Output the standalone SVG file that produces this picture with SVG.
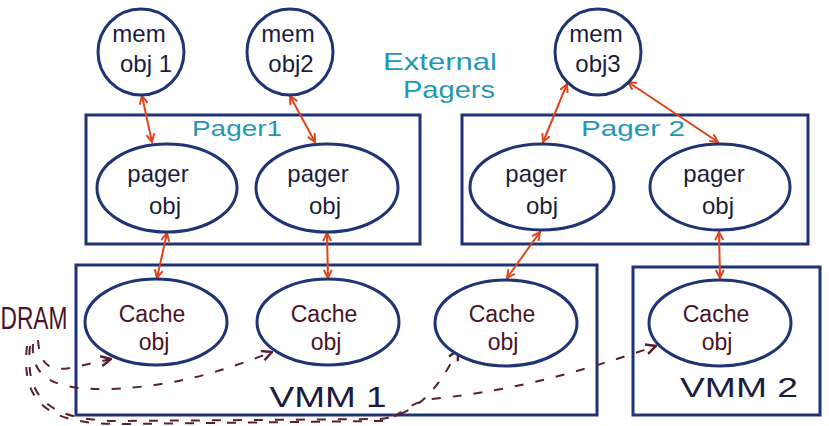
<svg xmlns="http://www.w3.org/2000/svg" width="829" height="426" viewBox="0 0 829 426">
<defs>
<style>
.box{fill:none;stroke:#1f3474;stroke-width:3}
.node{fill:#fff;stroke:#1f3474;stroke-width:3}
.t{font-family:"Liberation Sans","DejaVu Sans",sans-serif;text-anchor:middle}
.dark{fill:#1c1c3c;font-size:24px}
.maroon{fill:#4a1424}
.cache{font-size:23px}
.cyan{fill:#1f98b6}
.oa{fill:none;stroke:#e0441a;stroke-width:2;marker-start:url(#oh);marker-end:url(#oh)}
.da{fill:none;stroke:#5a2030;stroke-width:2;stroke-dasharray:9 12;marker-end:url(#dh)}
</style>
<marker id="oh" viewBox="0 0 10 10" refX="9" refY="5" markerWidth="10" markerHeight="10" markerUnits="userSpaceOnUse" orient="auto-start-reverse">
<path d="M1,1 L9,5 L1,9" fill="none" stroke="#e0441a" stroke-width="2"/>
</marker>
<marker id="dh" viewBox="0 0 12 12" refX="11" refY="6" markerWidth="12" markerHeight="12" markerUnits="userSpaceOnUse" orient="auto">
<path d="M1,1 L11,6 L1,11" fill="none" stroke="#5a2030" stroke-width="2.5"/>
</marker>
</defs>
<rect width="829" height="426" fill="#fff"/>

<g id="containers">
<rect id="pager1-box" class="box" x="86" y="115" width="334" height="129"/>
<rect id="pager2-box" class="box" x="462" y="115" width="346" height="129"/>
<rect id="vmm1-box" class="box" x="76" y="265" width="521" height="150"/>
<rect id="vmm2-box" class="box" x="633" y="267" width="187" height="148"/>
</g>

<g id="labels">
<text class="t cyan" x="237" y="136" font-size="22" textLength="90" lengthAdjust="spacingAndGlyphs">Pager1</text>
<text class="t cyan" x="633" y="136" font-size="22" textLength="104" lengthAdjust="spacingAndGlyphs">Pager 2</text>
<text class="t cyan" x="440" y="70" font-size="24" textLength="114" lengthAdjust="spacingAndGlyphs">External</text>
<text class="t cyan" x="449" y="98" font-size="24" textLength="92" lengthAdjust="spacingAndGlyphs">Pagers</text>
<text class="t" x="328" y="407" font-size="30" fill="#1c1c3c" textLength="117" lengthAdjust="spacingAndGlyphs">VMM 1</text>
<text class="t" x="739" y="397" font-size="28" fill="#1c1c3c" textLength="118" lengthAdjust="spacingAndGlyphs">VMM 2</text>
<text class="t maroon" x="34" y="329" font-size="32" textLength="67" lengthAdjust="spacingAndGlyphs">DRAM</text>
</g>

<g id="connectors">
<line class="oa" x1="142" y1="96" x2="152" y2="142"/>
<line class="oa" x1="290" y1="96" x2="315" y2="142"/>
<line class="oa" x1="567" y1="84" x2="543" y2="142"/>
<line class="oa" x1="628" y1="82" x2="718" y2="142"/>
<line class="oa" x1="167" y1="233" x2="157" y2="278"/>
<line class="oa" x1="327" y1="233" x2="328" y2="278"/>
<line class="oa" x1="540" y1="232" x2="507" y2="278"/>
<line class="oa" x1="719" y1="232" x2="720" y2="278"/>
<path class="da" d="M38,340 C40,368 52,372 75,367 L111,359"/>
<path class="da" d="M33,344 C30,382 62,390 110,389 C180,386 225,370 272,352"/>
<path class="da" d="M30,346 C24,400 52,421 120,421 L380,419 C420,414 440,385 458,350"/>
<path class="da" d="M27,346 C20,406 52,424 120,424 L385,421 C400,416 405,404 432,399 C520,390 585,370 656,346"/>
</g>

<g id="mem-obj-1">
<circle class="node" cx="141" cy="52" r="43"/>
<text class="t dark" x="139" y="42">mem</text>
<text class="t dark" x="146" y="72">obj 1</text>
</g>
<g id="mem-obj-2">
<circle class="node" cx="290" cy="52" r="43"/>
<text class="t dark" x="288" y="42">mem</text>
<text class="t dark" x="291" y="72">obj2</text>
</g>
<g id="mem-obj-3">
<circle class="node" cx="598" cy="52" r="43"/>
<text class="t dark" x="596" y="42">mem</text>
<text class="t dark" x="598" y="72">obj3</text>
</g>

<g id="pager-obj-1">
<ellipse class="node" cx="167" cy="188" rx="70" ry="44"/>
<text class="t dark" x="158" y="182">pager</text>
<text class="t dark" x="165" y="214">obj</text>
</g>
<g id="pager-obj-2">
<ellipse class="node" cx="327" cy="188" rx="71" ry="44"/>
<text class="t dark" x="318" y="182">pager</text>
<text class="t dark" x="325" y="214">obj</text>
</g>
<g id="pager-obj-3">
<ellipse class="node" cx="542" cy="187" rx="72" ry="43"/>
<text class="t dark" x="536" y="182">pager</text>
<text class="t dark" x="542" y="214">obj</text>
</g>
<g id="pager-obj-4">
<ellipse class="node" cx="720" cy="187" rx="70" ry="43"/>
<text class="t dark" x="714" y="182">pager</text>
<text class="t dark" x="718" y="214">obj</text>
</g>

<g id="cache-obj-1">
<ellipse class="node" cx="156" cy="322" rx="71" ry="43"/>
<text class="t maroon cache" x="152" y="322">Cache</text>
<text class="t maroon cache" x="154" y="350">obj</text>
</g>
<g id="cache-obj-2">
<ellipse class="node" cx="328" cy="322" rx="71" ry="43"/>
<text class="t maroon cache" x="324" y="322">Cache</text>
<text class="t maroon cache" x="326" y="350">obj</text>
</g>
<g id="cache-obj-3">
<ellipse class="node" cx="506" cy="323" rx="71" ry="43"/>
<text class="t maroon cache" x="502" y="322">Cache</text>
<text class="t maroon cache" x="503" y="350">obj</text>
</g>
<g id="cache-obj-4">
<ellipse class="node" cx="720" cy="323" rx="71" ry="43"/>
<text class="t maroon cache" x="716" y="322">Cache</text>
<text class="t maroon cache" x="717" y="350">obj</text>
</g>
</svg>
